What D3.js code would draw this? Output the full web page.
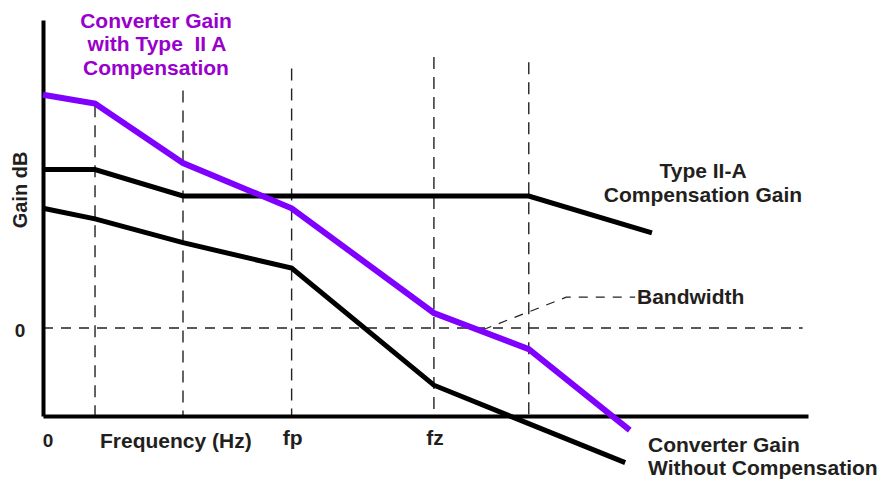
<!DOCTYPE html>
<html>
<head>
<meta charset="utf-8">
<script src="https://cdn.jsdelivr.net/npm/d3@7/dist/d3.min.js"></script>
<style>
  html, body { margin: 0; padding: 0; background: #fff; }
  svg { display: block; }
  text { font-family: "Liberation Sans", Arial, sans-serif; font-weight: bold; white-space: pre; }
</style>
</head>
<body>
<svg id="chart" width="883" height="479"></svg>
<script>
// ---- data (frequency in arbitrary units 0..100, gain in dB) ----
const breakFreqs   = [6.8, 18.3, 32.5, 51.1, 63.5];
const breakTops    = [25.3, 27.0, 29.5, 30.8, 30.2];
const freqTickLabels = ["fp", "fz"];
const freqTickValues = [32.5, 51.1];

const compensatedFreq = [0, 6.8, 18.3, 32.5, 51.1, 63.5, 76.7];
const compensatedGain = [26.5, 25.5, 18.75, 13.6, 1.7, -2.4, -11.6];

const typeIIAFreq = [0, 6.8, 18.3, 63.5, 79.6];
const typeIIAGain = [18.0, 18.0, 15.0, 15.0, 10.8];

const uncompFreq = [0, 6.8, 18.3, 32.5, 51.1, 76.1];
const uncompGain = [13.6, 12.4, 9.7, 6.8, -6.5, -15.3];

const bandwidthFreq = [57.5, 68.4, 77.4];
const bandwidthGain = [-0.2, 3.5, 3.5];

// ---- layout ----
const svg = d3.select("#chart");
const x = d3.scaleLinear().domain([0, 100]).range([43, 808]);
const y = d3.scaleLinear().domain([-10, 35]).range([416, 20]);
const line = d3.line().x(d => x(d[0])).y(d => y(d[1]));
const zip = (a, b) => a.map((v, i) => [v, b[i]]);

const textCol = "#231f20";
const FS = 21;

// vertical dashed break lines
breakFreqs.forEach((f, i) => {
  svg.append("path")
    .attr("d", line([[f, breakTops[i]], [f, -10]]))
    .attr("stroke", "#222").attr("stroke-width", 1.4)
    .attr("stroke-dasharray", "12,8").attr("fill", "none");
});

// zero dB dashed line
svg.append("path")
  .attr("d", line([[0, 0], [99.3, 0]]))
  .attr("stroke", "#222").attr("stroke-width", 1.4)
  .attr("stroke-dasharray", "10,8").attr("fill", "none");

// bandwidth leader
svg.append("path")
  .attr("d", line(zip(bandwidthFreq, bandwidthGain)))
  .attr("stroke", "#222").attr("stroke-width", 1.2)
  .attr("stroke-dasharray", "9,8").attr("fill", "none");

// axes
const xAxis = d3.axisBottom(x).tickValues([]).tickSize(0);
const yAxis = d3.axisLeft(y).tickValues([]).tickSize(0);
const gx = svg.append("g").attr("transform", `translate(0,${y(-10)})`).call(xAxis);
const gy = svg.append("g").attr("transform", `translate(${x(0)},0)`).call(yAxis);
[gx, gy].forEach(g => g.select(".domain").attr("stroke", "#000").attr("stroke-width", 4));

// curves
svg.append("path").attr("d", line(zip(uncompFreq, uncompGain)))
  .attr("stroke", "#000").attr("stroke-width", 5).attr("fill", "none");
svg.append("path").attr("d", line(zip(typeIIAFreq, typeIIAGain)))
  .attr("stroke", "#000").attr("stroke-width", 5).attr("fill", "none");
svg.append("path").attr("d", line(zip(compensatedFreq, compensatedGain)))
  .attr("stroke", "#7f00ff").attr("stroke-width", 6).attr("fill", "none");

// texts
const t = (txt, px, py, size, anchor, col) =>
  svg.append("text").attr("x", px).attr("y", py).attr("font-size", size)
    .attr("text-anchor", anchor || "start").attr("fill", col || textCol).text(txt);

// purple title
t("Converter Gain", 156, 28, FS, "middle", "#9900cc");
t("with Type  II A", 157, 51, FS, "middle", "#9900cc");
t("Compensation", 156, 75, FS, "middle", "#9900cc");

// y axis label
svg.append("text").attr("transform", "translate(27,190) rotate(-90)")
  .attr("text-anchor", "middle").attr("font-size", 20).attr("fill", textCol).text("Gain dB");
t("0", 20, 337, 19, "middle");

// x labels
t("0", 48, 447, 19, "middle");
freqTickLabels.forEach((lab, i) => {
  t(lab, x(freqTickValues[i]) + 1, 445, FS, "middle");
});
t("Frequency (Hz)", 100, 448, FS, "start");

// curve labels
t("Type II-A", 703, 178, FS, "middle");
t("Compensation Gain", 703, 202, FS, "middle");
t("Bandwidth", 637, 304, FS, "start");
t("Converter Gain", 648, 452, FS, "start");
t("Without Compensation", 648, 475, FS, "start");
</script>
</body>
</html>
